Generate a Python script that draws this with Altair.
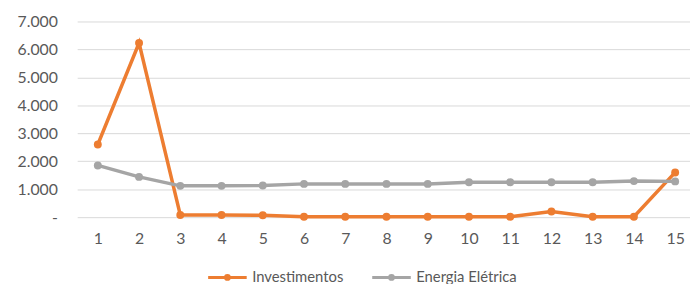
import altair as alt
import pandas as pd

periods = list(range(1, 16))
investimentos = [2600, 6230, 80, 80, 70, 15, 15, 15, 15, 15, 15, 200, 15, 15, 1600]
energia = [1850, 1440, 1120, 1120, 1130, 1190, 1190, 1190, 1190, 1250, 1250, 1250, 1250, 1290, 1280]
series_names = ["Investimentos", "Energia Elétrica"]
series_colors = ["#ED7D31", "#A5A5A5"]
y_ticks = [0, 1000, 2000, 3000, 4000, 5000, 6000, 7000]

rows = []
for i, p in enumerate(periods):
    rows.append({"periodo": p, "serie": series_names[0], "valor": investimentos[i]})
for i, p in enumerate(periods):
    rows.append({"periodo": p, "serie": series_names[1], "valor": energia[i]})
df = pd.DataFrame(rows)

FONT = "Lato"
TXT = "#595959"

# line with a dot in the middle (stroked at 3px)
legend_path = ("M-1,0H1 "
               "M-0.1,0A0.1,0.1,0,1,0,0.1,0A0.1,0.1,0,1,0,-0.1,0Z "
               "M-0.05,0A0.05,0.05,0,1,0,0.05,0A0.05,0.05,0,1,0,-0.05,0Z")

color = alt.Color(
    "serie:N",
    scale=alt.Scale(domain=series_names, range=series_colors),
    sort=series_names,
    legend=alt.Legend(
        title=None,
        orient="none",
        direction="horizontal",
        legendX=131,
        legendY=238,
        symbolType=legend_path,
        symbolSize=1521,
        symbolStrokeWidth=3,
        labelFont=FONT,
        labelFontSize=15,
        labelColor=TXT,
        labelOffset=4,
        columnPadding=22,
        padding=0,
    ),
)

x = alt.X(
    "periodo:Q",
    scale=alt.Scale(domain=[0.5, 15.36], nice=False, zero=False),
    axis=alt.Axis(
        values=periods,
        title=None,
        grid=False,
        domain=False,
        ticks=False,
        labelFont=FONT,
        labelFontSize=16,
        labelColor=TXT,
        labelPadding=14,
        labelFlush=False,
    ),
)
y = alt.Y(
    "valor:Q",
    scale=alt.Scale(domain=[0, 7000], nice=False),
    axis=alt.Axis(
        values=y_ticks,
        title=None,
        domain=False,
        ticks=False,
        gridColor="#D9D9D9",
        gridWidth=1,
        labelFont=FONT,
        labelFontSize=16,
        labelColor=TXT,
        labelPadding=20,
        labelExpr="datum.value == 0 ? '-' : replace(format(datum.value, ','), ',', '.')",
    ),
)

layers = []
for name in series_names:
    sub = alt.Chart(df[df["serie"] == name])
    layers.append(
        sub.mark_line(strokeWidth=3.5).encode(x=x, y=y, color=color, order="periodo:Q")
    )
    layers.append(
        sub.mark_point(filled=True, size=64, opacity=1).encode(x=x, y=y, color=color)
    )

chart = alt.layer(*layers).properties(
    width=620,
    height=198,
    autosize=alt.AutoSizeParams(type="none"),
    padding={"left": 70, "top": 12, "right": 0, "bottom": 66},
    background="white",
).configure_view(stroke=None)

chart.save("out.html", embed_options={"renderer": "svg", "actions": False})
